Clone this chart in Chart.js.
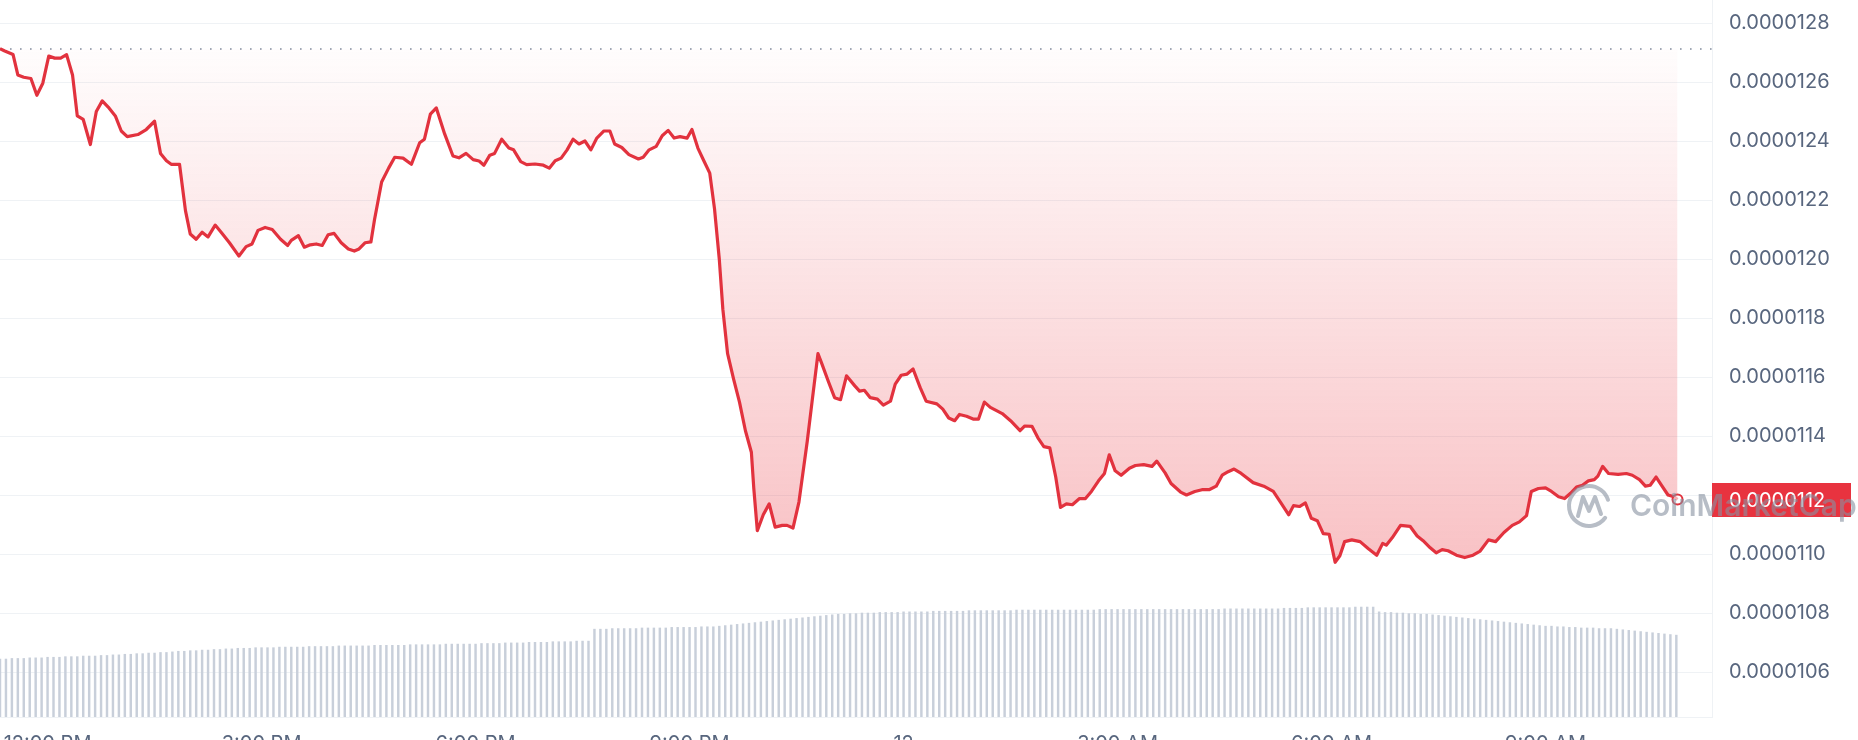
<!DOCTYPE html>
<html>
<head>
<meta charset="utf-8">
<title>Price chart</title>
<script src="https://cdn.jsdelivr.net/npm/chart.js@4.4.0/dist/chart.umd.min.js"></script>
<style>
  html, body { margin: 0; padding: 0; background: #fff; overflow: hidden; }
  #chart { display: block; }
</style>
</head>
<body>
<canvas id="chart" width="1858" height="770"></canvas>
<script>
  // minutes from the left edge of the chart (11:20 AM)
  const priceMinutes = [
    0, 4, 11, 15, 20, 26, 31, 36, 41, 46, 51, 56, 61, 65, 70, 76, 81, 86, 91, 97,
    102, 107, 116, 123, 130, 135, 140, 144, 151, 156, 160, 165, 170, 175, 181, 186, 193, 201, 207, 212,
    217, 223, 229, 236, 242, 245, 251, 256, 261, 266, 271, 276, 281, 287, 293, 298, 302, 307, 312, 315,
    321, 327, 332, 339, 346, 353, 357, 362, 367, 374, 381, 386, 392, 398, 403, 407, 412, 416, 422, 428,
    432, 438, 443, 450, 457, 462, 467, 472, 477, 482, 487, 492, 497, 502, 508, 513, 517, 523, 529, 537,
    541, 546, 552, 557, 562, 567, 572, 578, 582, 587, 592, 597, 601, 605, 608, 612, 617, 622, 627, 632,
    634, 637, 642, 647, 652, 658, 662, 667, 672, 679, 683, 688, 691, 697, 702, 707, 712, 719, 723, 727,
    732, 738, 743, 749, 753, 758, 763, 768, 774, 779, 788, 793, 798, 803, 807, 813, 819, 823, 828, 833,
    843, 850, 858, 862, 868, 873, 878, 883, 888, 892, 897, 902, 908, 913, 918, 924, 929, 933, 938, 943,
    950, 955, 962, 969, 973, 980, 985, 993, 998, 1005, 1011, 1017, 1023, 1028, 1033, 1038, 1044, 1054, 1063, 1071,
    1077, 1084, 1088, 1093, 1098, 1103, 1108, 1113, 1118, 1123, 1127, 1131, 1137, 1144, 1151, 1158, 1163, 1166, 1171, 1178,
    1186, 1192, 1197, 1203, 1208, 1213, 1218, 1225, 1232, 1239, 1245, 1252, 1258, 1265, 1272, 1278, 1284, 1288, 1294, 1300,
    1305, 1311, 1316, 1321, 1326, 1331, 1336, 1341, 1344, 1348, 1353, 1361, 1368, 1373, 1379, 1384, 1388, 1393, 1398, 1403,
    1408, 1411
  ];

  // price in units of 1e-7 USD
  const priceE7 = [
    127.13, 127.05, 126.93, 126.24, 126.16, 126.12, 125.55, 125.96, 126.88, 126.81, 126.81, 126.93, 126.24, 124.85, 124.73, 123.88, 125.00, 125.36, 125.15, 124.85,
    124.34, 124.15, 124.22, 124.39, 124.67, 123.58, 123.33, 123.21, 123.21, 121.64, 120.85, 120.67, 120.91, 120.75, 121.15, 120.91, 120.55, 120.10, 120.42, 120.51,
    120.97, 121.07, 121.00, 120.67, 120.46, 120.63, 120.79, 120.40, 120.48, 120.51, 120.46, 120.82, 120.87, 120.55, 120.34, 120.27, 120.34, 120.55, 120.58, 121.33,
    122.61, 123.09, 123.45, 123.42, 123.21, 123.94, 124.06, 124.91, 125.12, 124.24, 123.49, 123.43, 123.58, 123.37, 123.32, 123.18, 123.52, 123.58, 124.06, 123.76,
    123.70, 123.30, 123.20, 123.22, 123.18, 123.08, 123.33, 123.42, 123.70, 124.06, 123.90, 124.00, 123.70, 124.10, 124.34, 124.34, 123.90, 123.78, 123.54, 123.39,
    123.45, 123.70, 123.82, 124.18, 124.36, 124.10, 124.15, 124.10, 124.39, 123.76, 123.33, 122.91, 121.70, 120.00, 118.30, 116.79, 115.94, 115.15, 114.18, 113.45,
    112.24, 110.79, 111.33, 111.70, 110.91, 110.97, 110.97, 110.88, 111.76, 113.82, 115.15, 116.79, 116.48, 115.82, 115.30, 115.23, 116.04, 115.70, 115.52, 115.55,
    115.30, 115.25, 115.05, 115.18, 115.76, 116.06, 116.10, 116.27, 115.64, 115.18, 115.09, 114.91, 114.61, 114.52, 114.73, 114.67, 114.57, 114.57, 115.15, 114.97,
    114.76, 114.52, 114.18, 114.34, 114.33, 113.94, 113.64, 113.60, 112.61, 111.58, 111.70, 111.67, 111.88, 111.88, 112.12, 112.48, 112.73, 113.36, 112.82, 112.67,
    112.91, 113.00, 113.03, 112.97, 113.15, 112.75, 112.39, 112.10, 112.00, 112.12, 112.18, 112.18, 112.30, 112.67, 112.79, 112.88, 112.73, 112.42, 112.30, 112.12,
    111.76, 111.33, 111.64, 111.61, 111.73, 111.21, 111.13, 110.69, 110.67, 109.72, 109.94, 110.42, 110.48, 110.42, 110.18, 109.96, 110.36, 110.30, 110.55, 110.97,
    110.94, 110.61, 110.45, 110.21, 110.04, 110.15, 110.11, 109.96, 109.88, 109.96, 110.10, 110.48, 110.42, 110.73, 110.97, 111.09, 111.30, 112.12, 112.22, 112.24,
    112.12, 111.94, 111.88, 112.06, 112.27, 112.33, 112.48, 112.52, 112.64, 112.97, 112.73, 112.70, 112.73, 112.67, 112.52, 112.30, 112.33, 112.61, 112.30, 112.00,
    111.94, 111.85
  ];

  const openPriceE7 = 127.12;

  // 24h volume, millions USD, one bar every 5 minutes
  const volumeMillions = [
    9.7, 9.7, 9.8, 9.8, 9.8, 9.9, 9.9, 9.9, 10.0, 10.0, 10.0, 10.1, 10.1, 10.1, 10.2, 10.2, 10.2, 10.3, 10.3, 10.4,
    10.4, 10.5, 10.5, 10.6, 10.6, 10.7, 10.7, 10.8, 10.8, 10.9, 11.0, 11.0, 11.1, 11.1, 11.2, 11.2, 11.3, 11.3, 11.4, 11.4,
    11.5, 11.5, 11.5, 11.6, 11.6, 11.6, 11.6, 11.7, 11.7, 11.7, 11.7, 11.7, 11.8, 11.8, 11.8, 11.8, 11.8, 11.9, 11.9, 11.9,
    11.9, 11.9, 11.9, 12.0, 12.0, 12.0, 12.0, 12.0, 12.0, 12.1, 12.1, 12.1, 12.1, 12.1, 12.1, 12.2, 12.2, 12.2, 12.2, 12.2,
    12.2, 12.3, 12.3, 12.3, 12.3, 12.4, 12.4, 12.4, 12.4, 12.5, 12.5, 12.5, 12.5, 12.6, 12.6, 12.6, 12.6, 12.7, 12.7, 12.7,
    14.7, 14.7, 14.7, 14.8, 14.8, 14.8, 14.8, 14.8, 14.9, 14.9, 14.9, 14.9, 14.9, 15.0, 15.0, 15.0, 15.0, 15.0, 15.1, 15.1,
    15.1, 15.2, 15.3, 15.4, 15.5, 15.6, 15.7, 15.8, 15.9, 16.0, 16.1, 16.2, 16.3, 16.4, 16.5, 16.6, 16.7, 16.8, 16.9, 17.0,
    17.1, 17.2, 17.2, 17.3, 17.3, 17.4, 17.4, 17.4, 17.5, 17.5, 17.5, 17.5, 17.6, 17.6, 17.6, 17.6, 17.6, 17.7, 17.7, 17.7,
    17.7, 17.7, 17.7, 17.8, 17.8, 17.8, 17.8, 17.8, 17.8, 17.8, 17.8, 17.9, 17.9, 17.9, 17.9, 17.9, 17.9, 17.9, 17.9, 17.9,
    17.9, 17.9, 17.9, 17.9, 17.9, 18.0, 18.0, 18.0, 18.0, 18.0, 18.0, 18.0, 18.0, 18.0, 18.0, 18.0, 18.0, 18.0, 18.0, 18.0,
    18.0, 18.0, 18.0, 18.0, 18.0, 18.0, 18.1, 18.1, 18.1, 18.1, 18.1, 18.1, 18.1, 18.1, 18.1, 18.1, 18.2, 18.2, 18.2, 18.2,
    18.3, 18.3, 18.3, 18.3, 18.3, 18.3, 18.3, 18.3, 18.4, 18.4, 18.4, 18.4, 17.6, 17.5, 17.5, 17.4, 17.4, 17.3, 17.3, 17.2,
    17.2, 17.1, 17.0, 16.9, 16.8, 16.7, 16.6, 16.5, 16.4, 16.3, 16.2, 16.1, 16.0, 15.9, 15.8, 15.7, 15.6, 15.5, 15.4, 15.3,
    15.2, 15.2, 15.1, 15.1, 15.0, 15.0, 14.9, 14.9, 14.9, 14.8, 14.8, 14.8, 14.7, 14.6, 14.5, 14.4, 14.3, 14.2, 14.1, 14.0,
    13.9, 13.8, 13.7
  ];
  const volumeStepMinutes = 5;

  const xTickMinutes = [40, 220, 400, 580, 760, 940, 1120, 1300];
  const xTickLabels = ["12:00 PM", "3:00 PM", "6:00 PM", "9:00 PM", "12", "3:00 AM", "6:00 AM", "9:00 AM"];
  const yTickValues = [
    0.0000106, 0.0000108, 0.0000110, 0.0000112, 0.0000114, 0.0000116,
    0.0000118, 0.0000120, 0.0000122, 0.0000124, 0.0000126, 0.0000128
  ];

  const RED = "#e2323e";
  const AXIS_TEXT = "#58667e";
  const GRID = "#eff2f5";

  const pricePoints = priceMinutes.map((m, i) => ({ x: m, y: priceE7[i] * 1e-7 }));
  const volumePoints = volumeMillions.map((v, i) => ({ x: i * volumeStepMinutes, y: v }));
  const openPrice = openPriceE7 * 1e-7;
  const lastPrice = pricePoints[pricePoints.length - 1].y;

  function fillGradient(context) {
    const chart = context.chart;
    const area = chart.chartArea;
    if (!area) return "rgba(234, 57, 67, 0.1)";
    const top = chart.scales.y.getPixelForValue(openPrice);
    const g = chart.ctx.createLinearGradient(0, top, 0, area.bottom);
    g.addColorStop(0, "rgba(234, 57, 67, 0.01)");
    g.addColorStop(1, "rgba(234, 57, 67, 0.4)");
    return g;
  }

  const priceTag = {
    id: "priceTag",
    afterDraw(chart) {
      const { ctx, chartArea } = chart;
      const y = chart.scales.y.getPixelForValue(lastPrice);
      ctx.save();
      ctx.fillStyle = "#e8333f";
      ctx.fillRect(chartArea.right, Math.round(y - 16), 139, 34);
      ctx.fillStyle = "#fff";
      ctx.font = "20px Inter";
      ctx.textBaseline = "middle";
      ctx.textAlign = "left";
      ctx.fillText(lastPrice.toFixed(7), chartArea.right + 17, y + 2);
      ctx.restore();
    },
  };

  const watermark = {
    id: "watermark",
    afterDraw(chart) {
      const ctx = chart.ctx;
      const cx = 1589, cy = 506;
      ctx.save();
      ctx.strokeStyle = "rgba(135, 145, 160, 0.6)";
      ctx.fillStyle = "rgba(135, 145, 160, 0.6)";
      ctx.lineWidth = 4;
      ctx.lineCap = "round";
      ctx.lineJoin = "round";
      ctx.beginPath();
      ctx.arc(cx, cy, 20, 0.2 * Math.PI, 1.9 * Math.PI, false);
      ctx.stroke();
      ctx.beginPath();
      ctx.moveTo(cx - 11, cy + 10);
      ctx.lineTo(cx - 6, cy - 9);
      ctx.lineTo(cx, cy + 5);
      ctx.lineTo(cx + 6, cy - 9);
      ctx.lineTo(cx + 12, cy + 8);
      ctx.stroke();
      ctx.font = "600 30px Inter";
      ctx.textBaseline = "middle";
      ctx.textAlign = "left";
      ctx.fillText("CoinMarketCap", 1630, cy + 1);
      ctx.restore();
    },
  };

  new Chart(document.getElementById("chart"), {
    type: "line",
    data: {
      datasets: [
        {
          label: "Price",
          data: pricePoints,
          yAxisID: "y",
          borderColor: RED,
          borderWidth: 3.2,
          borderJoinStyle: "round",
          tension: 0,
          fill: { value: openPrice },
          backgroundColor: fillGradient,
          pointRadius: (ctx) => (ctx.dataIndex === pricePoints.length - 1 ? 5 : 0),
          pointBorderWidth: 2,
          pointBorderColor: RED,
          pointBackgroundColor: "rgba(255, 255, 255, 0.6)",
          order: 1,
        },
        {
          label: "Open",
          data: [
            { x: 0, y: openPrice },
            { x: 1440, y: openPrice },
          ],
          yAxisID: "y",
          borderColor: "rgba(88, 102, 126, 0.75)",
          borderWidth: 1.6,
          borderDash: [1.6, 8.4],
          pointRadius: 0,
          fill: false,
          order: 2,
        },
        {
          type: "bar",
          label: "Volume",
          data: volumePoints,
          yAxisID: "yv",
          backgroundColor: "#c8cfda",
          barThickness: 1.8,
          order: 3,
        },
      ],
    },
    options: {
      responsive: false,
      devicePixelRatio: 1,
      animation: false,
      layout: { padding: 0, autoPadding: false },
      plugins: {
        legend: { display: false },
        tooltip: { enabled: false },
      },
      scales: {
        x: {
          type: "linear",
          min: 0,
          max: 1440,
          offset: false,
          afterBuildTicks: (s) => {
            s.ticks = xTickMinutes.map((v) => ({ value: v }));
          },
          afterFit: (s) => {
            s.height = 53;
            s.paddingLeft = 0;
            s.paddingRight = 0;
          },
          grid: { display: false, drawTicks: false },
          border: { display: true, color: GRID },
          ticks: {
            padding: 15,
            maxRotation: 0,
            autoSkip: false,
            color: AXIS_TEXT,
            font: { family: "Inter", size: 20 },
            callback: (v) => xTickLabels[xTickMinutes.indexOf(v)],
          },
        },
        y: {
          position: "right",
          min: 0.0000104475,
          max: 0.000012878,
          afterBuildTicks: (s) => {
            s.ticks = yTickValues.map((v) => ({ value: v }));
          },
          afterFit: (s) => {
            s.width = 146;
            s.paddingTop = 0;
            s.paddingBottom = 0;
          },
          grid: { color: GRID, drawTicks: false },
          border: { display: true, color: GRID },
          ticks: {
            padding: 17,
            color: AXIS_TEXT,
            font: { family: "Inter", size: 20 },
            callback: (v) => Number(v).toFixed(7),
          },
        },
        yv: {
          display: false,
          min: 0,
          max: 120,
        },
      },
    },
    plugins: [priceTag, watermark],
  });
</script>
</body>
</html>
